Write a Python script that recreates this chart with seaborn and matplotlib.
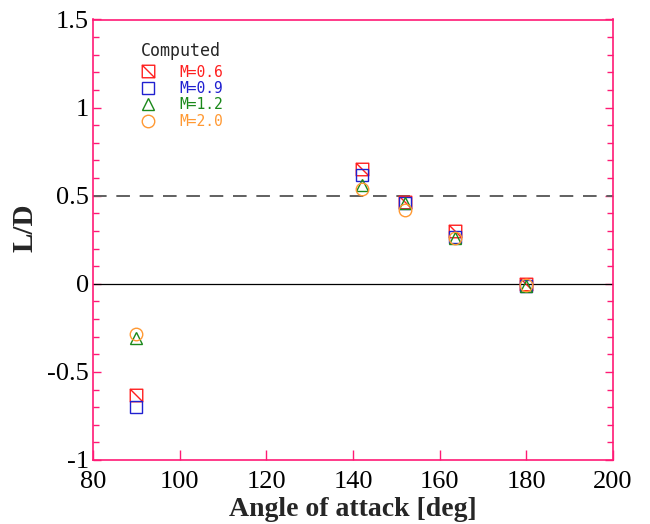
import numpy as np
import pandas as pd
import matplotlib
matplotlib.use("Agg")
import matplotlib.pyplot as plt
from matplotlib.path import Path
from matplotlib.ticker import MultipleLocator
import seaborn as sns

# ---- data ----
angles = [90, 142, 152, 163.5, 180]
ld_m06 = [-0.63, 0.65, 0.464, 0.30, 0.0]
ld_m09 = [-0.70, 0.615, 0.46, 0.267, -0.015]
ld_m12 = [-0.305, 0.56, 0.458, 0.26, -0.012]
ld_m20 = [-0.285, 0.54, 0.42, 0.26, -0.008]
labels = ["M=0.6", "M=0.9", "M=1.2", "M=2.0"]
legend_title = "Computed"
x_ticks = [80, 100, 120, 140, 160, 180, 200]
y_ticks = [-1, -0.5, 0, 0.5, 1, 1.5]
y_ticklabels = ["-1", "-0.5", "0", "0.5", "1", "1.5"]

series = [ld_m06, ld_m09, ld_m12, ld_m20]

sns.set_style("ticks")
plt.rcParams["font.family"] = ["Liberation Serif", "DejaVu Serif"]

pink = "#ff1a75"
colors = ["#ff1f1f", "#2020d0", "#1a881a", "#ff9933"]

# square with diagonal marker
sq_diag = Path(
    [(-1, 1), (1, 1), (1, -1), (-1, -1), (-1, 1), (-1, 1), (1, -1)],
    [Path.MOVETO, Path.LINETO, Path.LINETO, Path.LINETO, Path.CLOSEPOLY,
     Path.MOVETO, Path.LINETO],
)
markers = [sq_diag, "s", "^", "o"]

fig = plt.figure(figsize=(6.5, 5.24), dpi=100)
ax = fig.add_axes([93 / 650, 1 - 460 / 524, 520 / 650, 440.5 / 524])

ax.axhline(0.5, color="#606060", lw=1.4, ls=(0, (7, 5)), zorder=1)
ax.axhline(0.0, color="black", lw=0.9, zorder=1)

for vals, lab, col, mk in zip(series, labels, colors, markers):
    df = pd.DataFrame({"angle": angles, "ld": vals})
    sns.lineplot(data=df, x="angle", y="ld", ax=ax, linestyle="", marker=mk,
                 mfc="none", mec=col, mew=1.0, ms=9, color=col, label=lab,
                 estimator=None, errorbar=None, sort=False, zorder=3)

ax.set_xlim(80, 200)
ax.set_ylim(-1, 1.5)
ax.set_xticks(x_ticks)
ax.set_yticks(y_ticks)
ax.set_xticklabels([str(t) for t in x_ticks])
ax.set_yticklabels(y_ticklabels)
ax.yaxis.set_minor_locator(MultipleLocator(0.1))

for sp in ax.spines.values():
    sp.set_visible(True)
    sp.set_color(pink)
    sp.set_linewidth(1.2)

ax.tick_params(axis="both", which="both", direction="in", color=pink,
               labelcolor="black", labelsize=19, width=1.0)
ax.tick_params(axis="x", which="major", length=7, top=False, bottom=True, pad=8)
ax.tick_params(axis="y", which="major", length=6, left=True, right=True, pad=3)
ax.tick_params(axis="y", which="minor", length=4, left=True, right=True)

ax.set_xlabel("Angle of attack [deg]", fontsize=20, fontweight="bold", labelpad=3)
ax.set_ylabel("L/D", fontsize=21, fontweight="bold")
ax.yaxis.set_label_coords(-0.104, 0.527)

leg = ax.legend(title=legend_title, frameon=False, loc="upper left",
                bbox_to_anchor=(0.092, 0.948), borderpad=0, borderaxespad=0,
                handlelength=1.0, handletextpad=1.65, labelspacing=0.1,
                alignment="left", markerscale=1.0,
                prop={"family": "DejaVu Sans Mono", "size": 10.5},
                title_fontproperties={"family": "DejaVu Sans Mono", "size": 12})
leg._legend_box.sep = 3
for txt, col in zip(leg.get_texts(), colors):
    txt.set_color(col)

fig.savefig("out.png", dpi=100)
